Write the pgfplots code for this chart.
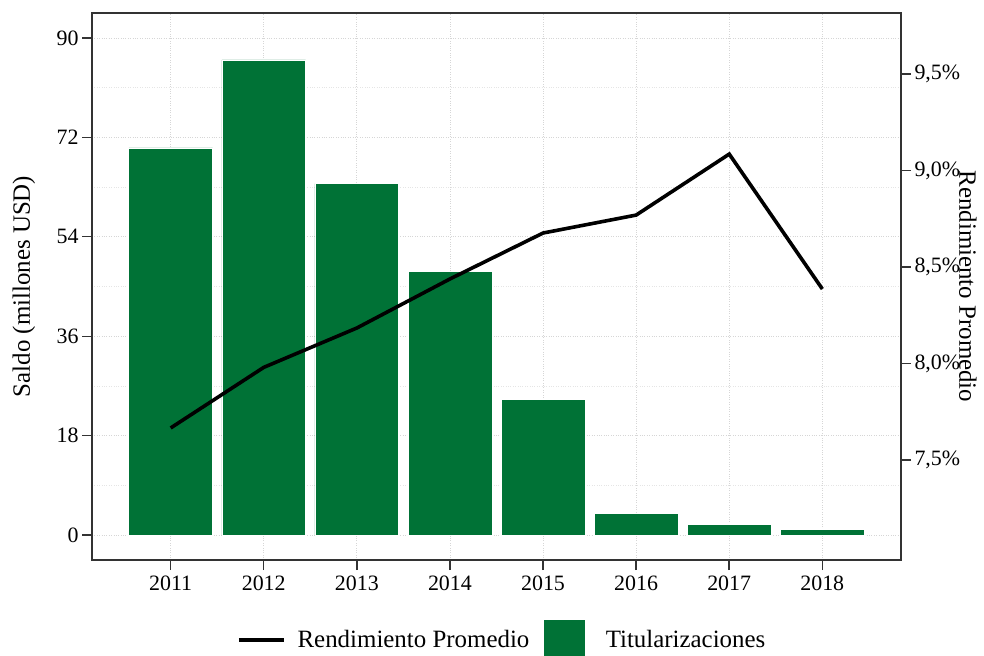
\documentclass[border=0pt]{standalone}
\usepackage{pgfplots}
\pgfplotsset{compat=1.18}
\usepackage{fontspec}
\setmainfont{Liberation Serif}
\definecolor{bargreen}{RGB}{0,114,54}
\definecolor{axgray}{RGB}{51,51,51}
\pgfplotsset{
  linelegend/.style={legend image code/.code={\draw[##1] (0bp,0bp) -- (45bp,0bp);}},
  sqlegend/.style={legend image code/.code={\fill[bargreen] (0bp,-20bp) rectangle (40bp,20bp); \path (49bp,0bp);}},
}
\pgfplotstableread{
year saldo
2011 70.1
2012 86.0
2013 63.6
2014 47.7
2015 24.6
2016 3.9
2017 2.0
2018 1.1
}\saldo
\pgfplotstableread{
year rend
2011 7.666
2012 7.98
2013 8.184
2014 8.438
2015 8.676
2016 8.769
2017 9.085
2018 8.386
}\rend
\begin{document}
\begin{tikzpicture}
\useasboundingbox (-92bp,-96bp) rectangle (892bp,560bp);
\pgfplotsset{
  common/.style={
    scale only axis, width=809bp, height=547bp,
    xmin=2010.155, xmax=2018.845,
    /pgf/number format/assume math mode=true,
    tick label style={font=\fontsize{22}{25}\selectfont, text=black},
    label style={font=\fontsize{25}{28}\selectfont},
    tick align=outside, major tick length=10bp, minor tick length=0pt,
    every tick/.style={axgray, line width=1.4bp},
    axis line style={axgray, line width=1.4bp},
  }
}
\begin{axis}[common,
  ymin=-4.5, ymax=94.5,
  xtick={2011,...,2018},
  xticklabel style={/pgf/number format/1000 sep={}},
  ytick={0,18,36,54,72,90},
  minor x tick num=1, minor y tick num=1,
  grid=both,
  major grid style={dotted, black!16, line width=0.7bp},
  minor grid style={dotted, black!10, line width=0.7bp},
  xtick pos=bottom, ytick pos=left,
  ylabel={Saldo (millones USD)},
  ylabel style={at={(rel axis cs:0,0.5)}, anchor=center, yshift=68bp},
  xticklabel style={yshift=-2bp},
]
\addplot[ybar, bar width=0.9, fill=bargreen, draw=white, line width=0.6bp] table[x=year,y=saldo]{\saldo};
\end{axis}
\begin{axis}[common,
  ymin=6.982, ymax=9.816,
  axis x line=none, axis y line*=right,
  ytick={7.5,8,8.5,9,9.5},
  yticklabels={{7,5\%},{8,0\%},{8,5\%},{9,0\%},{9,5\%}},
  ylabel={Rendimiento Promedio},
  ylabel style={at={(rel axis cs:1,0.5)}, anchor=center, rotate=180, yshift=67bp},
  legend columns=2,
  legend style={at={(0.507,-0.146)}, anchor=center, draw=none, fill=none,
    font=\fontsize{25}{28}\selectfont,
    /tikz/every odd column/.append style={column sep=10bp},
    /tikz/every even column/.append style={column sep=13bp}},
]
\addplot[black, line width=3.6bp, linelegend] table[x=year,y=rend]{\rend};
\addlegendentry{Rendimiento Promedio}
\addlegendimage{sqlegend}
\addlegendentry{Titularizaciones}
\end{axis}
\end{tikzpicture}
\end{document}
